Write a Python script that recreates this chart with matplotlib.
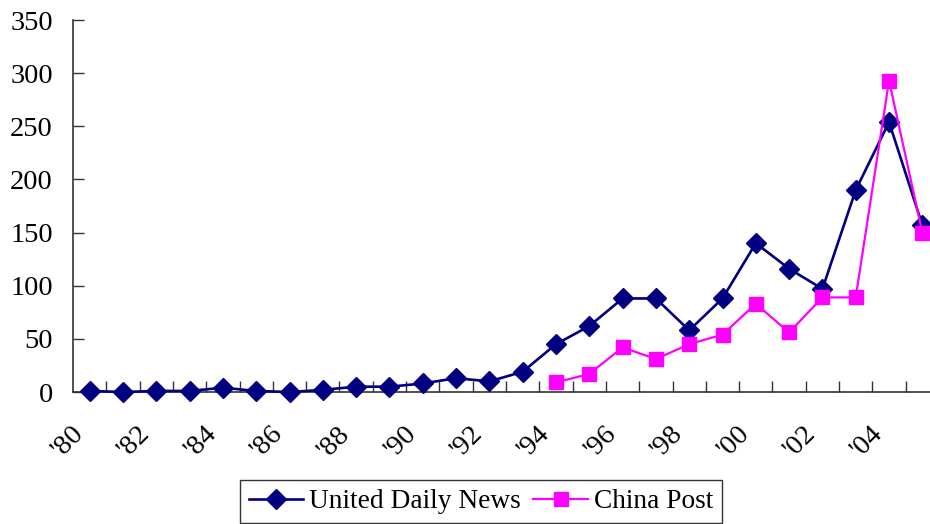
import matplotlib
matplotlib.use("Agg")
import matplotlib.pyplot as plt
import matplotlib.transforms as mtransforms
import numpy as np

years = ["'80", "'81", "'82", "'83", "'84", "'85", "'86", "'87", "'88", "'89",
         "'90", "'91", "'92", "'93", "'94", "'95", "'96", "'97", "'98", "'99",
         "'00", "'01", "'02", "'03", "'04", "'05"]
united_daily_news = [1, 0, 1, 1, 4, 1, 0, 2, 5, 5,
                     8, 13, 10, 19, 45, 62, 88, 88, 58, 88,
                     140, 116, 97, 190, 254, 157]
china_post_years = ["'94", "'95", "'96", "'97", "'98", "'99",
                    "'00", "'01", "'02", "'03", "'04", "'05"]
china_post = [9, 17, 42, 31, 45, 54, 83, 56, 89, 89, 293, 150]
y_ticks = [0, 50, 100, 150, 200, 250, 300, 350]

plt.rcParams["font.family"] = ["Liberation Serif", "DejaVu Serif"]

fig = plt.figure(figsize=(9.30, 5.24), dpi=100)
ax = fig.add_axes([73 / 930, 1 - 392 / 524, 866 / 930, 372 / 524])

x_all = np.arange(len(years))
x_cp = np.array([years.index(y) for y in china_post_years])

ax.plot(x_all, united_daily_news, color="#000080", lw=1.9, marker="D",
        markersize=10, label="United Daily News", zorder=3, clip_on=False)
ax.plot(x_cp, china_post, color="#FF00FF", lw=1.6, marker="s",
        markersize=10.5, label="China Post", zorder=4, clip_on=False)

ax.set_xlim(-0.5, len(years) - 0.5)
ax.set_ylim(0, 350)
ax.set_yticks(y_ticks)
ax.set_yticklabels([str(v) for v in y_ticks], fontsize=20.5)

# category labels every other year, tick marks on category boundaries
ax.set_xticks(x_all[::2])
ax.set_xticklabels(years[::2], fontsize=20.5, rotation=45, ha="right",
                   va="center", rotation_mode="anchor")
ax.set_xticks(np.arange(len(years)) + 0.5, minor=True)
ax.tick_params(axis="x", which="major", length=0, pad=0)
ax.tick_params(axis="x", which="minor", direction="in", length=8,
               width=1, color="#333333")
ax.tick_params(axis="y", direction="in", length=8, width=1,
               color="#333333", pad=14.5)

offset = mtransforms.ScaledTranslation(-10 / 100, -38 / 100, fig.dpi_scale_trans)
for lbl in ax.get_xticklabels():
    lbl.set_transform(lbl.get_transform() + offset)

for side in ("top", "right"):
    ax.spines[side].set_visible(False)
for side in ("left", "bottom"):
    ax.spines[side].set_color("#333333")
    ax.spines[side].set_linewidth(1.2)

leg = fig.legend(loc="lower center", bbox_to_anchor=(481 / 930, 1 / 524),
                 ncol=2, fontsize=19.7, frameon=True, fancybox=False,
                 edgecolor="black", handlelength=2.0, handletextpad=0.22,
                 columnspacing=0.45, borderpad=0.32, borderaxespad=0)
leg.get_frame().set_linewidth(1.0)

fig.savefig("out.png", dpi=100)
